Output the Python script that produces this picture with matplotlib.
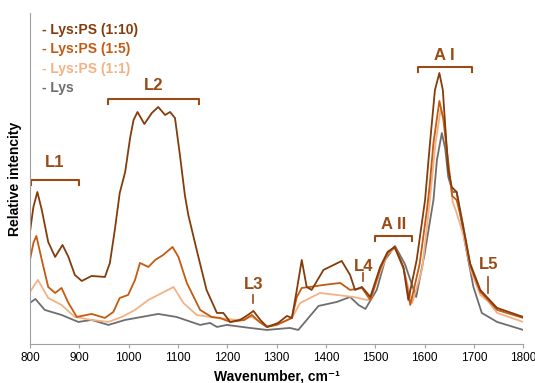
import matplotlib.pyplot as plt

plt.rcParams["font.family"] = ["Liberation Sans", "DejaVu Sans"]

# spectra (arbitrary intensity units)
wn_ps10 = [800, 807, 815, 824, 837, 851, 866, 878, 891, 905, 925, 952, 962, 972,
           982, 993, 1003, 1010, 1018, 1032, 1047, 1060, 1074, 1084, 1094, 1104,
           1114, 1121, 1138, 1158, 1179, 1192, 1206, 1226, 1242, 1253, 1267, 1281,
           1303, 1321, 1331, 1341, 1351, 1361, 1371, 1395, 1432, 1449, 1459, 1473,
           1490, 1510, 1525, 1539, 1557, 1567, 1584, 1601, 1611, 1621, 1630, 1637,
           1642, 1648, 1655, 1665, 1676, 1692, 1713, 1726, 1747, 1800]
int_ps10 = [112, 137, 152, 134, 102, 87, 99, 87, 69, 63, 68, 67, 81, 114,
            151, 172, 206, 224, 232, 220, 231, 237, 229, 232, 226, 189,
            149, 129, 94, 54, 31, 31, 22, 24, 29, 33, 24, 17,
            21, 28, 26, 54, 84, 57, 54, 74, 83, 69, 54, 57,
            47, 77, 92, 97, 77, 44, 84, 144, 201, 254, 271, 254,
            217, 174, 157, 152, 124, 81, 54, 47, 36, 27]

wn_ps5 = [800, 807, 813, 824, 837, 851, 864, 878, 895, 925, 952, 969, 982, 999,
          1013, 1023, 1040, 1054, 1070, 1089, 1101, 1118, 1145, 1168, 1185, 1206,
          1235, 1250, 1265, 1280, 1300, 1331, 1341, 1351, 1368, 1395, 1429, 1449,
          1473, 1490, 1510, 1525, 1540, 1558, 1571, 1590, 1605, 1610, 1618, 1630,
          1638, 1646, 1656, 1665, 1677, 1693, 1713, 1727, 1747, 1800]
int_ps5 = [84, 101, 108, 84, 57, 51, 56, 41, 27, 30, 26, 32, 46, 49,
           64, 81, 77, 84, 89, 97, 87, 61, 34, 27, 26, 22,
           24, 29, 22, 17, 19, 26, 47, 56, 57, 59, 61, 54,
           56, 44, 75, 91, 97, 75, 39, 80, 135, 157, 201, 243,
           225, 190, 148, 144, 120, 78, 52, 45, 34, 26]

wn_ps1 = [800, 816, 837, 864, 891, 925, 959, 986, 1013, 1040, 1060, 1091, 1111,
          1138, 1179, 1220, 1250, 1280, 1300, 1331, 1348, 1388, 1422, 1456, 1483,
          1490, 1510, 1525, 1540, 1558, 1575, 1595, 1610, 1622, 1633, 1640, 1647,
          1657, 1665, 1678, 1695, 1713, 1728, 1747, 1800]
int_ps1 = [52, 64, 46, 39, 27, 24, 22, 27, 34, 44, 49, 57, 41,
           29, 26, 24, 27, 18, 19, 26, 41, 51, 49, 47, 44,
           44, 72, 90, 96, 74, 41, 75, 140, 200, 236, 222, 186,
           142, 131, 110, 72, 49, 43, 31, 22]

wn_lys = [800, 811, 830, 864, 898, 925, 959, 993, 1060, 1097, 1145, 1165, 1179,
          1199, 1246, 1280, 1327, 1344, 1361, 1385, 1422, 1449, 1466, 1480, 1503,
          1520, 1540, 1560, 1583, 1600, 1618, 1625, 1635, 1642, 1648, 1657, 1665,
          1682, 1699, 1716, 1747, 1800]
int_lys = [41, 45, 34, 29, 22, 24, 19, 24, 30, 27, 19, 21, 17,
           19, 16, 14, 16, 14, 24, 38, 42, 47, 39, 35, 54,
           84, 98, 80, 47, 90, 144, 184, 211, 195, 167, 152, 152,
           101, 57, 31, 22, 14]

series = [
    ("- Lys:PS (1:10)", wn_ps10, int_ps10, "#843C0C"),
    ("- Lys:PS (1:5)", wn_ps5, int_ps5, "#C55A11"),
    ("- Lys:PS (1:1)", wn_ps1, int_ps1, "#F4B183"),
    ("- Lys", wn_lys, int_lys, "#6E6E6E"),
]

# band labels: name, bracket start, bracket end, bracket height, label height
brackets = [("L1", 803, 899, 164, 181), ("L2", 958, 1143, 245, 259),
            ("A II", 1500, 1574, 108, 119), ("A I", 1586, 1696, 277, 289)]
# single marks: name, position, tick bottom, tick top, label height
marks = [("L3", 1253, 41, 49, 59), ("L4", 1476, 63, 71, 77), ("L5", 1729, 51, 67, 79)]

label_color = "#9A4A15"

fig = plt.figure(figsize=(5.35, 3.83), dpi=100)
ax = fig.add_axes([0.056, 0.102, 0.922, 0.864])

for name, wn, val, color in reversed(series):
    ax.plot(wn, val, color=color, linewidth=1.3, solid_joinstyle="round")

for name, x0, x1, y, ty in brackets:
    ax.plot([x0, x0, x1, x1], [y - 5, y, y, y - 5], color=label_color, linewidth=1.5)
    ax.text((x0 + x1) / 2, ty, name, color=label_color, fontsize=12,
            fontweight="bold", ha="center", va="center")

for name, x, y0, y1, ty in marks:
    ax.plot([x, x], [y0, y1], color=label_color, linewidth=1.2)
    ax.text(x, ty, name, color=label_color, fontsize=12,
            fontweight="bold", ha="center", va="center")

for i, (name, wn, val, color) in enumerate(series):
    ax.text(824, 314 - i * 19.3, name, color=color, fontsize=10,
            fontweight="bold", ha="left", va="center")

ax.set_xlim(800, 1800)
ax.set_ylim(0, 331)
ax.set_xticks(range(800, 1801, 100))
ax.set_yticks([])
ax.tick_params(axis="x", labelsize=8.5, length=3, color="#A0A0A0", pad=3)
for side in ("top", "right"):
    ax.spines[side].set_visible(False)
for side in ("left", "bottom"):
    ax.spines[side].set_color("#A0A0A0")

fig.text(0.517, 0.016, "Wavenumber, cm\u207b\u00b9", fontsize=10, fontweight="bold",
         ha="center", va="center")
ax.set_ylabel("Relative intencity", fontsize=10, fontweight="bold", labelpad=6)

fig.savefig("out.png", dpi=100)
